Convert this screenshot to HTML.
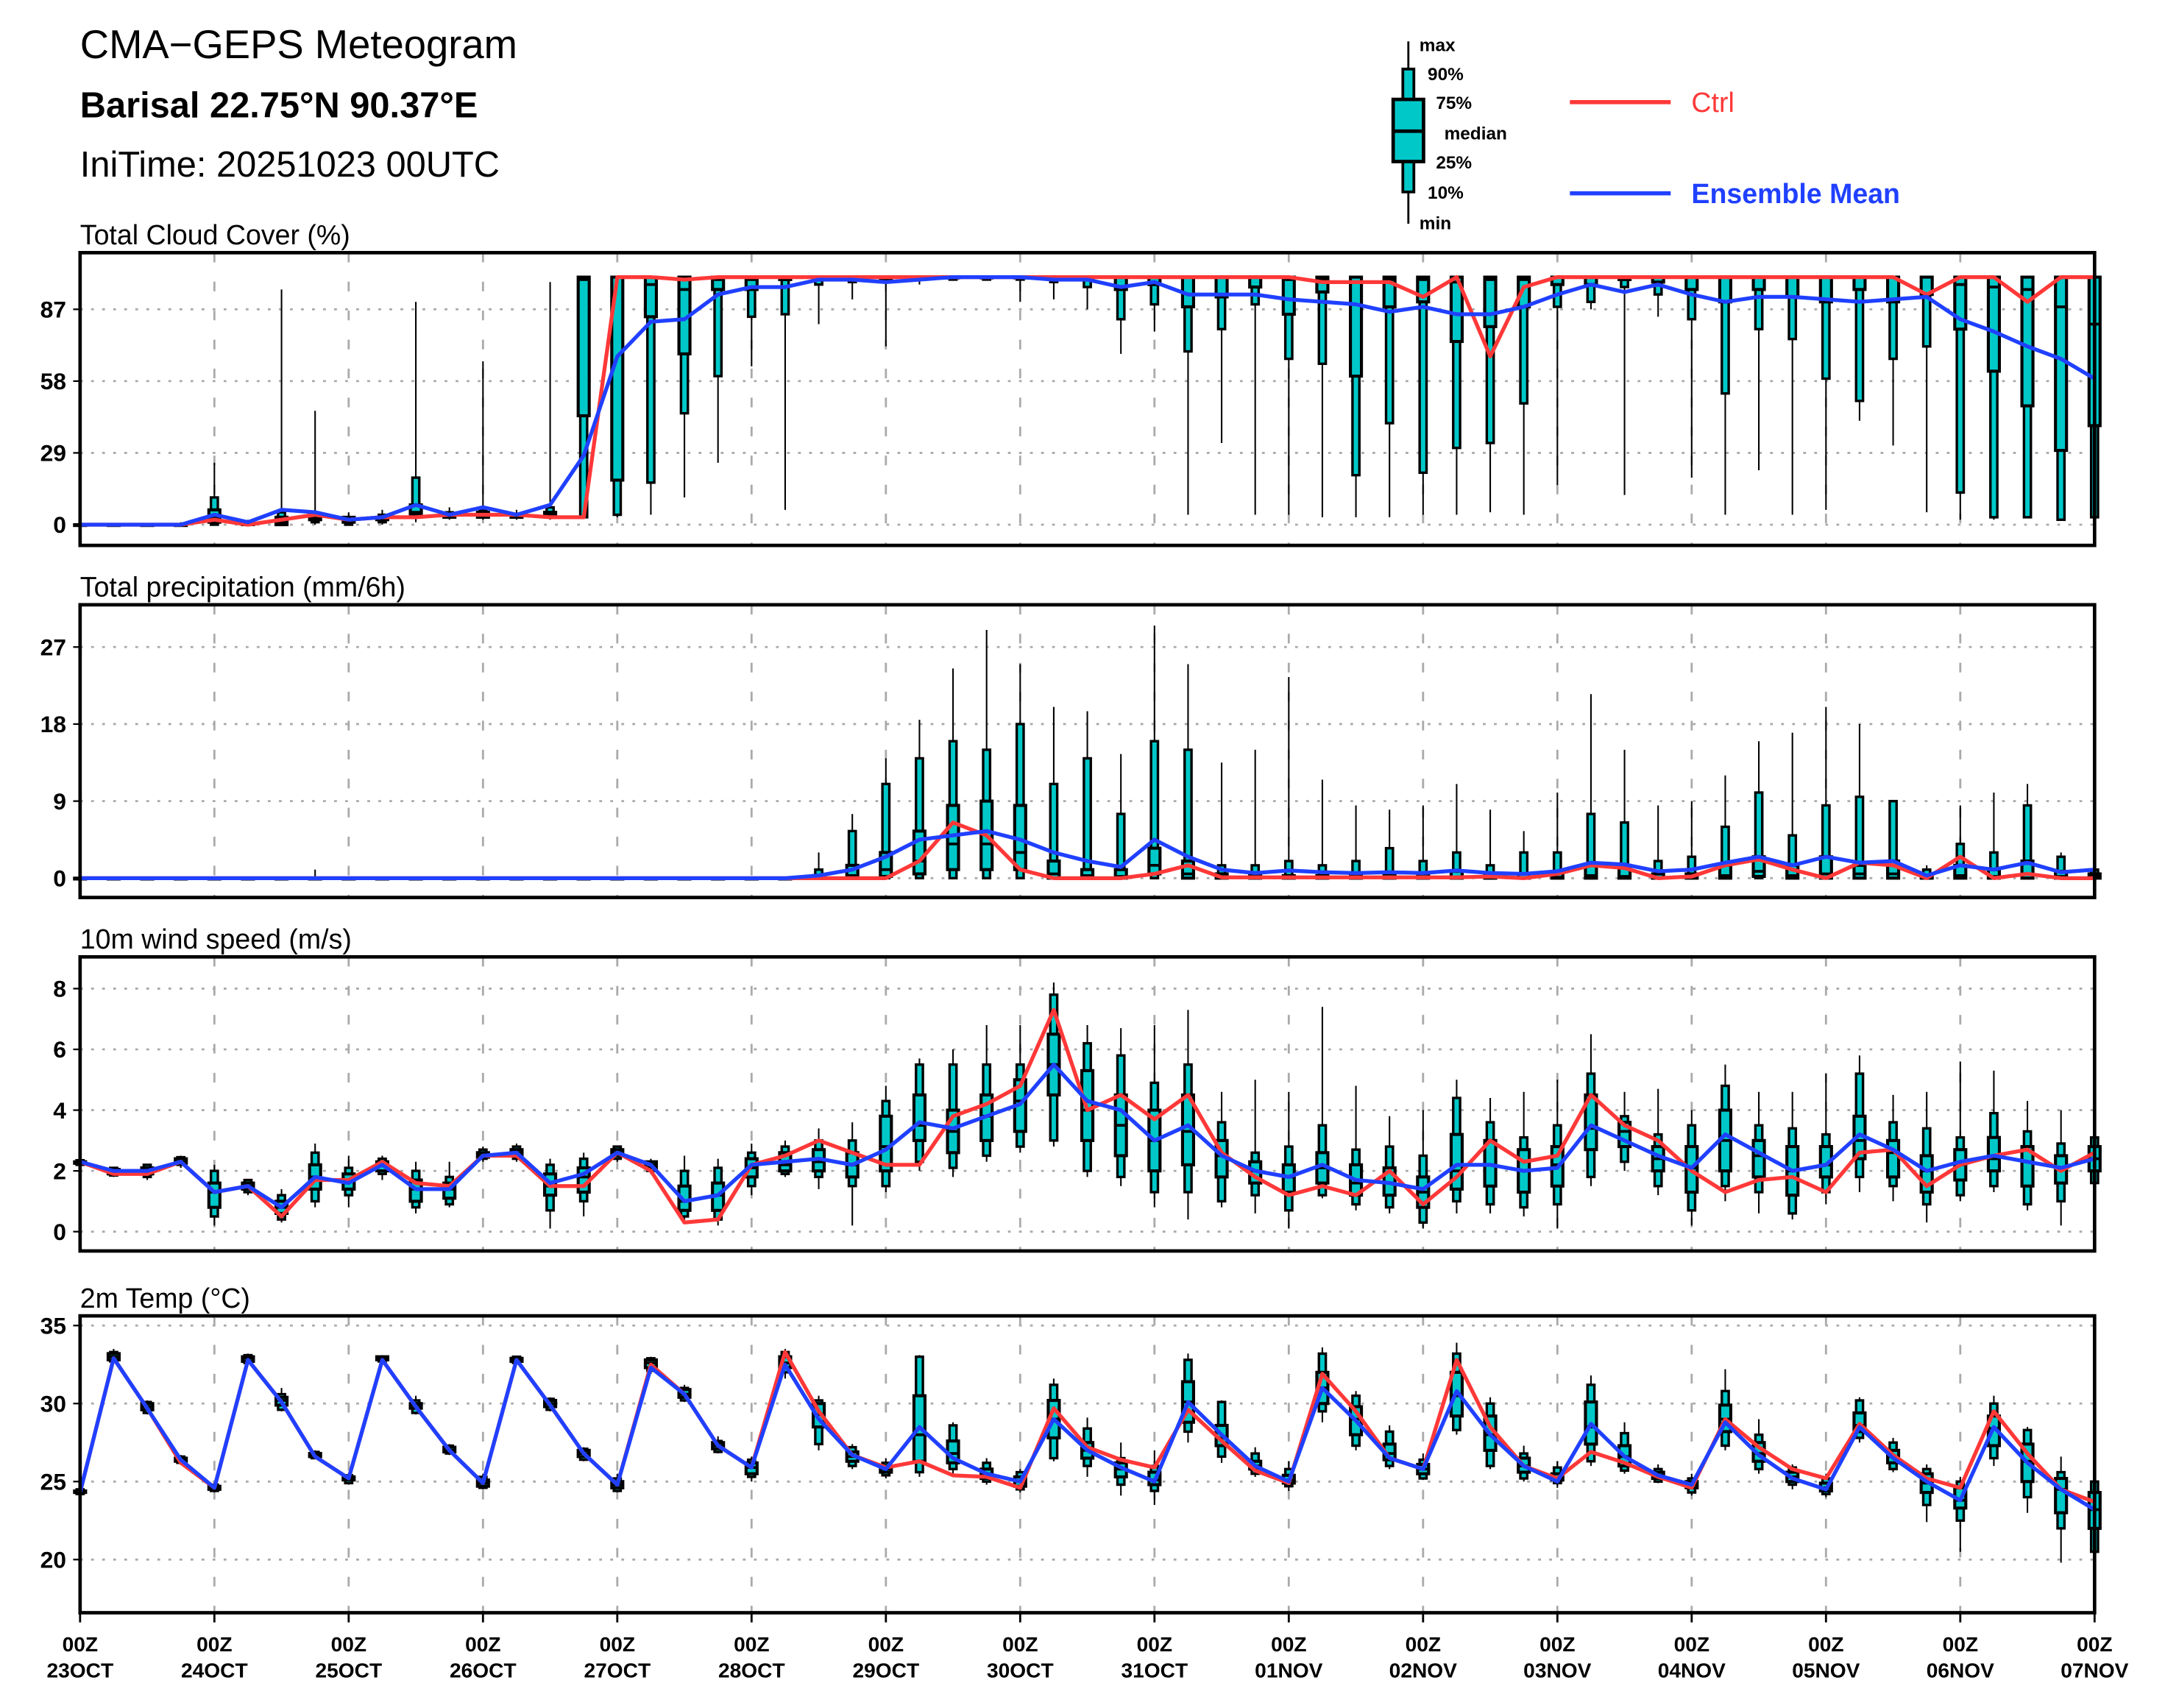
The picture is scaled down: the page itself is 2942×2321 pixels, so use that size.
<!DOCTYPE html>
<html><head><meta charset="utf-8">
<style>
html,body{margin:0;padding:0;background:#fff;}
svg{display:block;}
text{font-family:"Liberation Sans",sans-serif;}
</style></head>
<body>
<svg id="chart" xmlns="http://www.w3.org/2000/svg" width="2942" height="2321" viewBox="0 0 1568 1237" preserveAspectRatio="none">
<rect x="0" y="0" width="1568" height="1237" fill="#fff"/>
<g>
<text x="58" y="42" font-size="29" fill="#000">CMA−GEPS Meteogram</text>
<text x="58" y="85" font-size="26" fill="#000" font-weight="bold">Barisal 22.75°N 90.37°E</text>
<text x="58" y="128" font-size="26" fill="#000">IniTime: 20251023 00UTC</text>
</g>
<g>
<line x1="1020" y1="30" x2="1020" y2="162" stroke="#000" stroke-width="1.5"/>
<rect x="1016" y="50" width="8" height="89" fill="#00c8c8" stroke="#000" stroke-width="2"/>
<rect x="1009" y="72" width="22" height="45" fill="#00c8c8" stroke="#000" stroke-width="2.5"/>
<line x1="1009" y1="95" x2="1031" y2="95" stroke="#000" stroke-width="2.5"/>
<g font-size="13" font-weight="bold" fill="#000">
<text x="1028" y="37">max</text><text x="1034" y="58">90%</text><text x="1040" y="79">75%</text>
<text x="1046" y="101">median</text><text x="1040" y="122">25%</text><text x="1034" y="144">10%</text><text x="1028" y="166">min</text>
</g>
<line x1="1137" y1="74" x2="1210" y2="74" stroke="#ff3838" stroke-width="3"/>
<text x="1225" y="81" font-size="20" fill="#ff3838">Ctrl</text>
<line x1="1137" y1="140" x2="1210" y2="140" stroke="#2040ff" stroke-width="3"/>
<text x="1225" y="147" font-size="20" font-weight="bold" fill="#2040ff">Ensemble Mean</text>
</g>
<g id="panels"></g>
</svg>
<script>
// ---------- data ----------
const dayLabels = ["23OCT","24OCT","25OCT","26OCT","27OCT","28OCT","29OCT","30OCT","31OCT","01NOV","02NOV","03NOV","04NOV","05NOV","06NOV","07NOV"];

const cloudTicks = [0,29,58,87];
const cloudBoxes = [[0,0,0,0,0,0,0],[0,0,0,0,0,0,0],[0,0,0,0,0,0,0],[0,0,0,0,0,0,1],[0,0,1,3,6,11,25],[0,0,0,0,1,1,2],[0,0,0,1,3,5,95],[0,1,2,3,4,5,46],[0,0,1,2,3,3,5],[0,1,2,3,3,4,6],
[1,3,4,5,8,19,90],[2,3,3,4,4,5,7],[2,3,3,4,5,6,66],[2,3,3,3,4,4,6],[2,3,4,4,5,7,98],[3,3,44,99,100,100,100],[3,4,18,100,100,100,100],[4,17,84,97,100,100,100],[11,45,69,95,100,100,100],[25,60,95,99,100,100,100],
[64,84,95,99,100,100,100],[6,85,99,100,100,100,100],[81,97,99,100,100,100,100],[91,98,99,100,100,100,100],[72,98,99,100,100,100,100],[97,99,100,100,100,100,100],[99,99,100,100,100,100,100],[99,99,100,100,100,100,100],[90,99,100,100,100,100,100],[91,98,99,100,100,100,100],
[87,96,99,100,100,100,100],[69,83,95,100,100,100,100],[78,89,97,100,100,100,100],[4,70,88,100,100,100,100],[33,79,92,100,100,100,100],[4,89,96,100,100,100,100],[4,67,85,99,100,100,100],[3,65,94,99,100,100,100],[3,20,60,98,100,100,100],[3,41,88,99,100,100,100],
[4,21,90,99,100,100,100],[4,31,74,98,100,100,100],[5,33,80,99,100,100,100],[4,49,88,99,100,100,100],[16,88,97,100,100,100,100],[87,90,97,100,100,100,100],[12,96,99,100,100,100,100],[84,93,98,100,100,100,100],[19,83,95,100,100,100,100],[4,53,90,100,100,100,100],
[22,79,95,100,100,100,100],[4,75,92,100,100,100,100],[6,59,90,100,100,100,100],[42,50,95,100,100,100,100],[32,67,90,100,100,100,100],[5,72,93,100,100,100,100],[2,13,79,97,100,100,100],[2,3,62,96,100,100,100],[3,3,48,95,100,100,100],[2,2,30,88,100,100,100],[2,3,40,81,100,100,100]];
const cloudMean = [0,0,0,0,4,1,6,5,2,3,8,4,7,4,8,28,68,82,83,93,96,96,99,99,98,99,100,100,100,99,99,96,98,93,93,93,91,90,89,86,88,85,85,88,93,97,94,97,93,90,92,92,91,90,91,92,83,78,72,67,59];
const cloudCtrl = [0,0,0,0,2,0,2,4,2,3,3,4,4,4,3,3,100,100,99,100,100,100,100,100,100,100,100,100,100,100,100,100,100,100,100,100,100,98,98,98,92,100,68,96,100,100,100,100,100,100,100,100,100,100,100,93,100,100,90,100,100];

const precipTicks = [0,9,18,27];
const precipBoxes = [[0,0,0,0,0,0,0],[0,0,0,0,0,0,0],[0,0,0,0,0,0,0],[0,0,0,0,0,0,0],[0,0,0,0,0,0,0],[0,0,0,0,0,0,0],[0,0,0,0,0,0,0],[0,0,0,0,0,0,1],[0,0,0,0,0,0,0],[0,0,0,0,0,0,0],
[0,0,0,0,0,0,0],[0,0,0,0,0,0,0],[0,0,0,0,0,0,0],[0,0,0,0,0,0,0],[0,0,0,0,0,0,0],[0,0,0,0,0,0,0],[0,0,0,0,0,0,0],[0,0,0,0,0,0,0],[0,0,0,0,0,0,0],[0,0,0,0,0,0,0],
[0,0,0,0,0,0,0],[0,0,0,0,0,0,0],[0,0,0,0,0.3,1,3],[0,0,0,0.3,1.5,5.5,7.5],[0,0,0.2,1,3,11,14],[0,0,0.5,2,5.5,14,18.5],[0,0,1,4,8.5,16,24.5],[0,0,1,4,9,15,29],[0,0,1,3,8.5,18,25],[0,0,0,0.5,2,11,20],
[0,0,0,0.3,1,14,19.5],[0,0,0,0.2,1,7.5,14.5],[0,0,0.5,1.5,3.5,16,29.5],[0,0,0,0.5,2,15,25],[0,0,0,0.1,0.5,1.5,13.5],[0,0,0,0,0.3,1.5,15],[0,0,0,0,0.3,2,23.5],[0,0,0,0,0.3,1.5,11.5],[0,0,0,0,0.3,2,8.5],[0,0,0,0,0.5,3.5,8],
[0,0,0,0,0.5,2,8.5],[0,0,0,0.1,0.8,3,11],[0,0,0,0,0.5,1.5,8],[0,0,0,0,0.5,3,5.5],[0,0,0,0.1,0.8,3,10],[0,0,0,0.3,1.5,7.5,21.5],[0,0,0,0.2,1.5,6.5,15],[0,0,0,0,0.5,2,8.5],[0,0,0,0.1,0.5,2.5,9],[0,0,0,0.3,1.5,6,12],
[0,0,0.2,0.8,2.5,10,16],[0,0,0,0.3,1.5,5,17],[0,0,0,0.5,2.5,8.5,20],[0,0,0,0.5,1.5,9.5,18],[0,0,0,0.5,2,9,9],[0,0,0,0,0.3,1,1.5],[0,0,0,0.3,1.5,4,8.5],[0,0,0,0.2,1,3,10],[0,0,0,0.5,2,8.5,11],[0,0,0,0.2,0.8,2.5,3],[0,0,0,0.2,0.5,1,4]];
const precipMean = [0,0,0,0,0,0,0,0,0,0,0,0,0,0,0,0,0,0,0,0,0,0,0.3,1,2.5,4.5,5,5.5,4.5,3,2,1.3,4.5,2.5,1,0.6,0.9,0.7,0.6,0.7,0.6,0.9,0.6,0.5,0.8,1.8,1.6,0.8,1,1.8,2.5,1.5,2.5,1.8,2,0.3,1.5,1,1.8,0.7,1];
const precipCtrl = [0,0,0,0,0,0,0,0,0,0,0,0,0,0,0,0,0,0,0,0,0,0,0,0,0,2,6.5,5,1,0,0,0,0.5,1.5,0.1,0.1,0.1,0.1,0.1,0.1,0.1,0.1,0.2,0,0.5,1.5,1.2,0,0.2,1.5,2.2,1,0,1.8,1.5,0,2.5,0,0.5,0,0];

const windTicks = [0,2,4,6,8];
const windBoxes = [[2.2,2.2,2.25,2.3,2.3,2.35,2.4],[1.8,1.85,1.9,2.0,2.05,2.1,2.1],[1.7,1.8,1.9,2.0,2.1,2.2,2.2],[2.1,2.2,2.25,2.3,2.4,2.45,2.5],[0.2,0.5,0.8,1.3,1.6,2.0,2.2],[1.2,1.3,1.4,1.5,1.6,1.7,1.7],[0.3,0.4,0.6,0.8,1.0,1.2,1.4],[0.8,1.0,1.4,1.8,2.2,2.6,2.9],[0.8,1.2,1.4,1.7,1.9,2.1,2.5],[1.7,1.9,2.0,2.2,2.3,2.4,2.5],
[0.6,0.8,1.0,1.4,1.7,2.0,2.3],[0.8,0.9,1.1,1.4,1.6,1.8,2.3],[2.3,2.4,2.45,2.5,2.6,2.7,2.8],[2.3,2.4,2.5,2.6,2.7,2.8,2.9],[0.1,0.7,1.2,1.5,1.9,2.2,2.4],[0.5,1.0,1.3,1.8,2.1,2.4,2.6],[2.3,2.4,2.5,2.6,2.7,2.8,2.8],[1.9,2.0,2.1,2.2,2.3,2.3,2.4],[0.3,0.5,0.7,1.0,1.5,2.0,2.5],[0.2,0.4,0.7,1.2,1.6,2.1,2.4],
[1.2,1.5,1.8,2.1,2.4,2.6,2.9],[1.8,1.9,2.0,2.2,2.6,2.8,3.0],[1.4,1.8,2.0,2.3,2.7,3.0,3.4],[0.2,1.5,1.8,2.2,2.6,3.0,3.6],[1.3,1.5,2.0,2.8,3.8,4.3,4.8],[2.0,2.3,3.0,3.5,4.5,5.5,5.7],[1.8,2.1,2.6,3.3,4.0,5.5,6.0],[2.3,2.5,3.0,3.8,4.5,5.5,6.8],[2.6,2.8,3.3,4.3,5.0,5.5,6.8],[2.8,3.0,4.5,5.5,6.5,7.8,8.2],
[1.8,2.0,3.0,4.0,5.3,6.2,6.8],[1.5,1.8,2.5,3.5,4.5,5.8,6.7],[0.8,1.3,2.0,3.0,4.0,4.9,6.8],[0.4,1.3,2.2,3.3,4.5,5.5,7.3],[0.8,1.0,1.8,2.5,3.0,3.6,4.6],[0.6,1.2,1.6,2.0,2.3,2.6,5.0],[0.1,0.7,1.3,1.8,2.2,2.8,4.6],[1.1,1.2,1.6,2.1,2.6,3.5,7.4],[0.7,0.9,1.2,1.6,2.2,2.7,4.8],[0.6,0.8,1.2,1.6,2.1,2.8,3.8],
[0.1,0.3,0.8,1.3,1.8,2.5,4.0],[0.6,1.0,1.4,2.0,3.2,4.4,5.0],[0.6,0.9,1.5,2.2,3.0,3.6,4.4],[0.5,0.8,1.3,2.0,2.7,3.1,4.6],[0.1,0.9,1.5,2.2,2.8,3.5,5.0],[1.5,1.8,2.7,3.4,4.5,5.2,6.5],[2.0,2.3,2.8,3.3,3.6,3.8,4.6],[1.2,1.5,2.0,2.4,2.8,3.2,4.7],[0.2,0.7,1.3,2.1,2.8,3.5,4.0],[1.0,1.5,2.0,3.0,4.0,4.8,5.5],
[0.6,1.3,1.8,2.5,3.0,3.5,4.6],[0.4,0.6,1.2,2.0,2.8,3.4,4.6],[0.9,1.3,1.8,2.2,2.8,3.2,5.2],[1.3,1.8,2.4,3.0,3.8,5.2,5.8],[1.0,1.5,1.8,2.6,3.0,3.6,4.5],[0.3,0.9,1.3,2.0,2.5,3.4,4.6],[1.0,1.2,1.7,2.2,2.7,3.1,5.6],[1.3,1.5,2.0,2.4,3.1,3.9,5.3],[0.7,0.9,1.5,2.3,2.8,3.3,4.3],[0.2,1.0,1.6,2.1,2.5,2.9,4.0],[1.4,1.6,2.0,2.4,2.8,3.1,3.4]];
const windMean = [2.3,2.0,2.0,2.3,1.3,1.5,0.8,1.8,1.6,2.2,1.4,1.4,2.5,2.6,1.6,1.9,2.6,2.2,1.0,1.2,2.2,2.3,2.4,2.2,2.7,3.6,3.4,3.8,4.2,5.5,4.3,4.0,3.0,3.5,2.5,2.0,1.8,2.2,1.7,1.6,1.4,2.2,2.2,2.0,2.1,3.5,3.0,2.5,2.1,3.2,2.6,2.0,2.2,3.2,2.7,2.0,2.3,2.5,2.3,2.1,2.4];
const windCtrl = [2.3,1.9,1.9,2.3,1.3,1.5,0.5,1.7,1.7,2.3,1.6,1.5,2.5,2.5,1.5,1.5,2.6,2.0,0.3,0.4,2.2,2.5,3.0,2.6,2.2,2.2,3.8,4.2,4.8,7.3,4.0,4.5,3.7,4.5,2.6,1.8,1.2,1.5,1.2,2.0,0.9,1.8,3.0,2.3,2.5,4.5,3.5,3.0,2.0,1.3,1.7,1.8,1.3,2.6,2.7,1.5,2.2,2.5,2.7,2.0,2.6];

const tempTicks = [20,25,30,35];
const tempBoxes = [[24.1,24.2,24.3,24.3,24.4,24.5,24.5],[32.6,32.7,32.8,33.0,33.2,33.3,33.5],[29.3,29.4,29.6,29.8,30.0,30.1,30.2],[26.1,26.2,26.3,26.4,26.5,26.6,26.7],[24.3,24.4,24.5,24.6,24.7,24.8,24.9],[32.5,32.6,32.7,32.9,33.0,33.1,33.2],[29.5,29.6,29.9,30.2,30.4,30.6,31.0],[26.5,26.5,26.6,26.7,26.8,26.9,27.0],[24.8,24.9,25.1,25.2,25.3,25.4,25.5],[32.6,32.7,32.8,32.9,33.0,33.0,33.1],
[29.3,29.4,29.7,29.9,30.0,30.2,30.5],[26.7,26.8,26.9,27.0,27.2,27.3,27.4],[24.5,24.6,24.7,24.9,25.1,25.3,25.5],[32.5,32.6,32.7,32.8,32.9,33.0,33.0],[29.5,29.6,29.8,30.0,30.2,30.3,30.4],[26.3,26.4,26.6,26.8,27.0,27.1,27.2],[24.3,24.4,24.6,24.8,25.0,25.2,25.5],[31.9,32.1,32.3,32.6,32.8,32.9,33.0],[30.1,30.2,30.4,30.6,30.9,31.0,31.2],[26.8,26.9,27.1,27.3,27.5,27.6,27.9],
[25.0,25.3,25.5,25.9,26.2,26.4,26.6],[31.6,32.0,32.3,32.6,33.0,33.3,33.5],[27.0,27.4,28.5,29.3,30.0,30.2,30.5],[25.8,26.0,26.3,26.6,26.9,27.2,27.4],[25.2,25.4,25.6,25.8,26.0,26.2,26.5],[25.3,25.6,26.3,28.0,30.5,33.0,33.1],[25.5,25.8,26.2,26.8,27.6,28.6,28.8],[24.8,25.0,25.2,25.5,25.8,26.2,26.5],[24.3,24.5,24.7,25.0,25.3,25.6,25.8],[26.3,26.5,27.8,29.0,30.2,31.2,31.6],
[25.3,26.0,26.5,27.0,27.5,28.4,29.1],[24.1,24.8,25.3,25.8,26.2,26.5,27.5],[23.5,24.4,24.8,25.1,25.6,26.0,27.0],[27.5,28.2,28.8,30.1,31.4,32.8,33.2],[26.2,26.6,27.3,27.8,28.6,30.1,30.2],[25.3,25.5,25.8,26.0,26.3,26.8,27.2],[24.4,24.7,24.9,25.1,25.4,25.8,26.3],[28.8,29.5,30.0,31.0,32.0,33.2,33.6],[27.0,27.3,28.0,29.0,29.8,30.5,30.8],[25.8,26.0,26.4,26.8,27.4,28.2,28.6],
[25.1,25.2,25.5,25.8,26.1,26.4,26.8],[28.0,28.3,29.2,30.5,32.0,33.2,33.9],[25.8,26.0,27.0,28.0,29.2,30.0,30.4],[25.0,25.2,25.6,26.0,26.5,26.8,27.3],[24.6,24.9,25.1,25.2,25.5,25.9,26.3],[26.0,26.3,27.4,28.5,30.1,31.2,31.8],[25.5,25.7,26.0,26.6,27.3,28.1,28.8],[24.9,25.0,25.2,25.4,25.6,25.8,26.1],[24.1,24.3,24.6,24.8,25.0,25.2,25.5],[27.0,27.3,28.2,29.0,29.9,30.8,32.2],
[25.5,25.8,26.3,26.8,27.5,28.0,29.0],[24.5,24.8,25.0,25.3,25.6,25.9,26.1],[24.0,24.2,24.4,24.6,24.9,25.2,25.5],[27.5,27.8,28.2,28.6,29.4,30.2,30.4],[25.6,25.8,26.2,26.6,27.0,27.5,27.8],[22.4,23.5,24.3,24.9,25.5,25.8,26.1],[20.5,22.5,23.3,23.8,24.6,25.0,25.3],[26.0,26.5,27.3,28.4,29.2,30.0,30.5],[23.0,24.0,25.0,26.3,27.4,28.3,28.5],[19.8,22.0,23.0,24.5,25.2,25.6,26.6],[20.2,20.5,22.0,23.2,24.3,25.0,25.1]];
const tempMean = [24.3,32.9,29.7,26.4,24.6,32.8,30.1,26.6,25.2,32.8,29.8,27.0,24.9,32.8,29.9,26.8,24.8,32.3,30.6,27.3,25.9,32.5,29.0,26.7,25.8,28.5,26.5,25.5,25.0,29.0,27.0,25.9,25.0,30.1,28.0,26.0,25.0,31.0,28.9,26.5,25.8,30.8,28.0,26.0,25.0,28.7,26.6,25.4,24.8,28.8,26.7,25.2,24.5,28.5,26.5,25.0,23.8,28.5,26.2,24.5,23.2];
const tempCtrl = [24.3,32.9,29.7,26.2,24.6,32.8,30.1,26.6,25.2,32.8,29.8,27.0,24.9,32.8,29.9,26.8,24.8,32.5,30.6,27.3,25.9,33.3,29.5,26.7,25.9,26.3,25.4,25.3,24.6,29.7,27.2,26.4,25.9,29.6,27.6,25.7,24.9,31.9,29.5,26.5,25.8,32.8,28.5,26.0,25.2,26.9,26.2,25.3,24.6,29.0,27.2,25.8,25.2,28.7,26.7,25.2,24.6,29.5,26.8,24.5,23.7];

// ---------- axes ----------
const X0 = 58, X1 = 1517, NSTEP = 60;
function xPos(i){ return X0 + (X1 - X0) * i / NSTEP; }
function makeY(v0, y0, pxPerUnit){ return v => y0 - (v - v0) * pxPerUnit; }

const panels = [
  {name:"cloud-cover", title:"Total Cloud Cover (%)", top:183, bottom:395, y:makeY(0,380,1.793), ticks:cloudTicks, boxes:cloudBoxes, mean:cloudMean, ctrl:cloudCtrl},
  {name:"precipitation", title:"Total precipitation (mm/6h)", top:438, bottom:650, y:makeY(0,636,6.2), ticks:precipTicks, boxes:precipBoxes, mean:precipMean, ctrl:precipCtrl},
  {name:"wind-speed", title:"10m wind speed (m/s)", top:693, bottom:906, y:makeY(0,892,22), ticks:windTicks, boxes:windBoxes, mean:windMean, ctrl:windCtrl},
  {name:"temperature", title:"2m Temp (°C)", top:953, bottom:1168, y:makeY(25,1073,11.3), ticks:tempTicks, boxes:tempBoxes, mean:tempMean, ctrl:tempCtrl}
];

const NS = "http://www.w3.org/2000/svg";
function el(tag, attrs, parent){
  const e = document.createElementNS(NS, tag);
  for (const k in attrs) e.setAttribute(k, attrs[k]);
  parent.appendChild(e);
  return e;
}
const root = document.getElementById("panels");

panels.forEach(p => {
  const g = el("g", {}, root);
  
  

  const t = el("text", {x:58, y:p.top - 6, "font-size":20, fill:"#000"}, g);
  t.textContent = p.title;
  
  

  p.ticks.forEach(v => {
    const yy = p.y(v);
    const gl = el("line", {x1:X0, x2:X1, y1:yy, y2:yy, stroke:"#aaa", "stroke-width":1.5, "stroke-dasharray":"2,6"}, g);
    
    
    el("line", {x1:X0-5, x2:X0, y1:yy, y2:yy, stroke:"#000", "stroke-width":1.2}, g);
    const tl = el("text", {x:X0-10, y:yy+6, "font-size":17, "font-weight":"bold", "text-anchor":"end", fill:"#000"}, g);
    tl.textContent = v;
    
    
  });
  for (let d = 1; d < dayLabels.length - 1; d++) {
    const xx = xPos(d * 4);
    const vl = el("line", {x1:xx, x2:xx, y1:p.top, y2:p.bottom, stroke:"#aaa", "stroke-width":1.5, "stroke-dasharray":"7,14"}, g);
    
    
  }
  p.boxes.forEach((b, i) => {
    const xx = xPos(i);
    const bg = el("g", {}, g);
    
    
    const [mn, p10, p25, med, p75, p90, mx] = b;
    el("line", {x1:xx, x2:xx, y1:p.y(mn), y2:p.y(mx), stroke:"#000", "stroke-width":1.1}, bg);
    el("rect", {x:xx-2.5, y:p.y(p90), width:5, height:Math.max(0.6, p.y(p10)-p.y(p90)), fill:"#00c8c8", stroke:"#000", "stroke-width":1.8}, bg);
    el("rect", {x:xx-4, y:p.y(p75), width:8, height:Math.max(0.6, p.y(p25)-p.y(p75)), fill:"#00c8c8", stroke:"#000", "stroke-width":2.2}, bg);
    el("line", {x1:xx-4, x2:xx+4, y1:p.y(med), y2:p.y(med), stroke:"#000", "stroke-width":2}, bg);
  });
  const mkPts = arr => arr.map((v, i) => xPos(i).toFixed(1) + "," + p.y(v).toFixed(1)).join(" ");
  const cl = el("polyline", {points:mkPts(p.ctrl), fill:"none", stroke:"#ff3838", "stroke-width":2.8, "stroke-linejoin":"round"}, g);
  
  
  const ml = el("polyline", {points:mkPts(p.mean), fill:"none", stroke:"#2040ff", "stroke-width":2.8, "stroke-linejoin":"round"}, g);
  
  
  const fr = el("rect", {x:X0, y:p.top, width:X1-X0, height:p.bottom-p.top, fill:"none", stroke:"#000", "stroke-width":2.5}, g);
  
  
});

const xg = el("g", {}, root);


dayLabels.forEach((lab, d) => {
  const xx = xPos(d * 4);
  el("line", {x1:xx, x2:xx, y1:1168, y2:1175, stroke:"#000", "stroke-width":1.5}, xg);
  const t1 = el("text", {x:xx, y:1196, "font-size":15, "text-anchor":"middle", "font-weight":"bold", fill:"#000"}, xg);
  t1.textContent = "00Z";
  
  
  const t2 = el("text", {x:xx, y:1215, "font-size":15, "text-anchor":"middle", "font-weight":"bold", fill:"#000"}, xg);
  t2.textContent = lab;
  
  
});
</script>
</body></html>
